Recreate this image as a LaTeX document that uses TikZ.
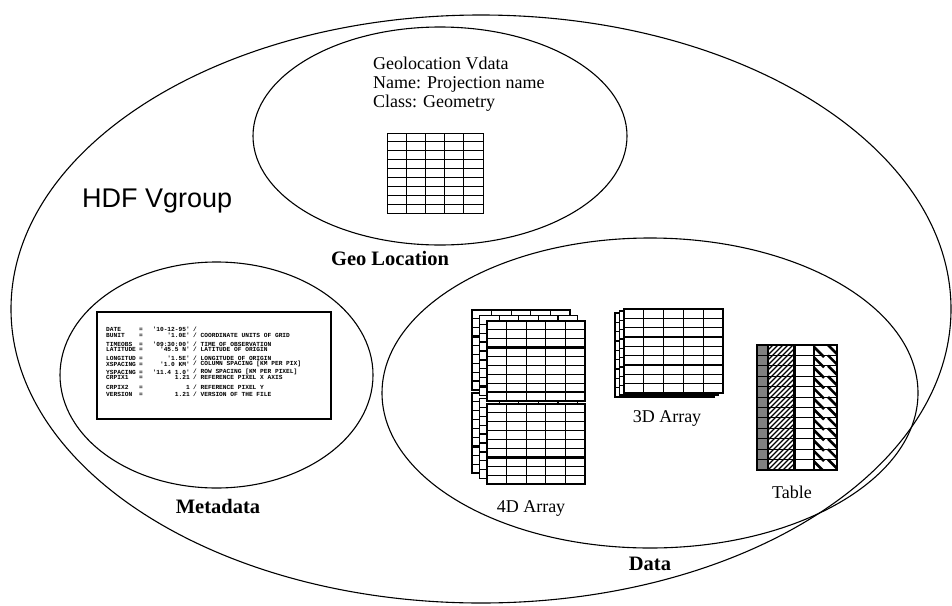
\documentclass[tikz,border=0pt]{standalone}
\usepackage{fontspec}
\setmainfont{Liberation Serif}
\setsansfont{Liberation Sans}
\setmonofont{Liberation Mono}

% Gitter: x, y, Breite, Hoehe, Spalten, Zeilen
\newcommand{\gitterblock}[6]{%
  \pgfmathsetmacro{\zw}{#3/#5}%
  \pgfmathsetmacro{\zh}{#4/#6}%
  \filldraw[fill=white] (#1,#2) rectangle ++(#3,#4);
  \foreach \spl in {1,...,#5} {\draw ({#1+\spl*\zw},#2) -- ++(0,#4);}
  \foreach \zl in {1,...,#6} {\draw (#1,{#2+\zl*\zh}) -- ++(#3,0);}
}

\begin{document}
\begin{tikzpicture}[x=1pt, y=-1pt,
        rand/.style={line width=1.1pt},
        gitter/.style={line width=1.2pt},
        titel/.style={font=\fontsize{20.5}{24}\selectfont\bfseries, inner sep=0pt},
        beschr/.style={font=\fontsize{18}{19}\selectfont, inner sep=0pt},
        meta/.style={font=\fontsize{6.2}{7}\selectfont\ttfamily\bfseries, inner sep=0pt}
        ]
    \useasboundingbox (0,0) rectangle (952,605);

    % Ellipsen
    \draw[rand] (481,309) ellipse [x radius=470pt, y radius=294pt];
    \draw[rand] (440,136) ellipse [x radius=187pt, y radius=109pt];
    \draw[rand] (216.5,375) ellipse [x radius=156.5pt, y radius=113pt];
    \draw[rand] (650,393) ellipse [x radius=268pt, y radius=155pt];

    % Beschriftung
    \node[font=\sffamily\fontsize{27}{30}\selectfont, anchor=base west, inner sep=0pt]
        (vgroup) at (82,207) {HDF Vgroup};
    \node[beschr, anchor=base west] (geo1) at (373,69) {Geolocation Vdata};
    \node[beschr, anchor=base west] (geo2) at (373,88) {Name: Projection name};
    \node[beschr, anchor=base west] (geo3) at (373,107) {Class: Geometry};
    \node[titel, anchor=base] (geolbl) at (390,265) {Geo Location};
    \node[titel, anchor=base] (metalbl) at (218,513) {Metadata};
    \node[titel, anchor=base] (datalbl) at (650,570) {Data};
    \node[beschr, anchor=base] (lbl4d) at (531,512) {4D Array};
    \node[beschr, anchor=base] (lbl3d) at (667,422) {3D Array};
    \node[beschr, anchor=base] (lbltab) at (792,498) {Table};

    % Geolocation-Vdata
    \begin{scope}[line width=1pt]
        \gitterblock{387}{133}{96}{80}{5}{9}
    \end{scope}

    % Metadaten
    \draw[line width=1.2pt] (97,312) rectangle (331,419);
    \foreach \i/\yy/\schl/\wert/\kom in {
            1/329/DATE/{'10-12-95'}/{},
            2/335/BUNIT/{'1.0E'}/{COORDINATE UNITS OF GRID},
            3/344/TIMEOBS/{'09:30:00'}/{TIME OF OBSERVATION},
            4/349/LATITUDE/{'45.5 N'}/{LATITUDE OF ORIGIN},
            5/358/LONGITUD/{'1.5E'}/{LONGITUDE OF ORIGIN},
            6/364/XSPACING/{'1.0 KM'}/{COLUMN SPACING [KM PER PIX]},
            7/372/YSPACING/{'11.4 1.0'}/{ROW SPACING [KM PER PIXEL]},
            8/377/CRPIX1/{1.21}/{REFERENCE PIXEL X AXIS},
            9/387/CRPIX2/{1}/{REFERENCE PIXEL Y},
            10/394/VERSION/{1.21}/{VERSION OF THE FILE}} {
        \node[meta, anchor=west] (mk\i) at (106,\yy) {\makebox[33pt][l]{\schl}=};
        \node[meta, anchor=east] (mw\i) at (190,\yy) {\wert};
        \node[meta, anchor=west] (mc\i) at (193,\yy) {/ \kom};
    }

    % 4D-Feld
    \begin{scope}[gitter]
        \foreach \i in {0,1,2} {
            \gitterblock{472+7.5*\i}{310+5.5*\i}{98}{80}{5}{9}
            \gitterblock{472+7.5*\i}{393+5.5*\i}{98}{80}{5}{9}
            \draw[line width=2.6pt] (472+7.5*\i,{310+5.5*\i+3*80/9}) -- ++(98,0)
                                    (472+7.5*\i,{310+5.5*\i+8*80/9}) -- ++(98,0)
                                    (472+7.5*\i,{393+5.5*\i+6*80/9}) -- ++(98,0);
        }
    \end{scope}

    % 3D-Feld
    \begin{scope}[gitter]
        \foreach \i in {0,1,2} {
            \gitterblock{615+4.5*\i}{313-2*\i}{99}{84}{5}{9}
        }
    \end{scope}

    % Tabelle
    \fill[black!50] (757,345) rectangle (768,470);
    \begin{scope}
        \clip (768,345) rectangle (793,470);
        \foreach \h in {-130,-125,...,25} {
            \draw[line width=1.1pt] (768+\h,470) -- ++(130,-130);
        }
    \end{scope}
    \begin{scope}
        \clip (814,345) rectangle (837,470);
        \foreach \r in {0,...,11} {
            \draw[line width=2.6pt] (812,{345+\r*125/12}) -- ++(12,12)
                                    (828,{345+\r*125/12}) -- ++(12,12);
        }
    \end{scope}
    \foreach \r in {1,...,11} {
        \draw[line width=1.1pt] (757,{345+\r*125/12}) -- (837,{345+\r*125/12});
    }
    \draw[line width=1.1pt] (768,345) -- (768,470) (814,345) -- (814,470);
    \draw[line width=2.6pt] (794.5,345) -- (794.5,470);
    \draw[line width=1.3pt] (757,345) rectangle (837,470);
\end{tikzpicture}
\end{document}
